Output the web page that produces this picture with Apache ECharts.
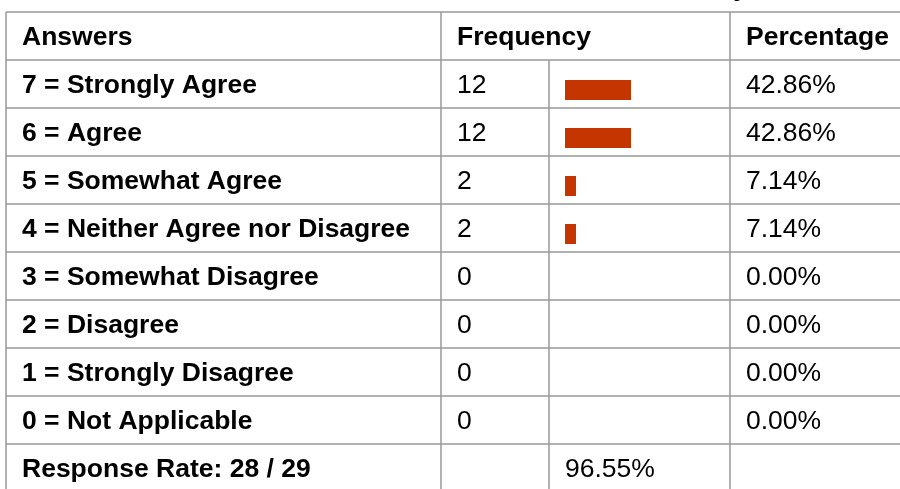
<!DOCTYPE html>
<html>
<head>
<meta charset="utf-8">
<script src="https://cdn.jsdelivr.net/npm/echarts@6/dist/echarts.min.js"></script>
<style>
html,body{margin:0;padding:0;background:#fff;}
#chart{width:900px;height:489px;}
</style>
</head>
<body>
<div id="chart"></div>
<script>
const headers = ['Answers', 'Frequency', 'Percentage'];
const answers = [
  '7 = Strongly Agree',
  '6 = Agree',
  '5 = Somewhat Agree',
  '4 = Neither Agree nor Disagree',
  '3 = Somewhat Disagree',
  '2 = Disagree',
  '1 = Strongly Disagree',
  '0 = Not Applicable'
];
const frequency = [12, 12, 2, 2, 0, 0, 0, 0];
const percentage = ['42.86%', '42.86%', '7.14%', '7.14%', '0.00%', '0.00%', '0.00%', '0.00%'];
const responseLabel = 'Response Rate: 28 / 29';
const responsePct = '96.55%';
const titleText = 'Summary';

const chart = echarts.init(document.getElementById('chart'), null, {renderer: 'canvas'});

const FAMILY = 'Liberation Sans';
const FS = 26.5;
const LINE = '#999999';
const LW = 1.5;
const top0 = 12, rowH = 48;
const colX = [6, 441, 549, 730];
const nRows = answers.length + 2;

const g = [];
for (let i = 0; i <= nRows; i++) {
  const y = top0 + i * rowH;
  g.push({type: 'line', shape: {x1: colX[0], y1: y, x2: 900, y2: y}, style: {stroke: LINE, lineWidth: LW}, silent: true});
}
[colX[0], colX[1], colX[3]].forEach(x => {
  g.push({type: 'line', shape: {x1: x, y1: top0, x2: x, y2: 489}, style: {stroke: LINE, lineWidth: LW}, silent: true});
});
g.push({type: 'line', shape: {x1: colX[2], y1: top0 + rowH, x2: colX[2], y2: 489}, style: {stroke: LINE, lineWidth: LW}, silent: true});

function txt(s, x, y, bold, align) {
  g.push({
    type: 'text', x: x, y: y,
    style: {
      text: s, fill: '#000',
      font: (bold ? 'bold ' : '') + FS + 'px "' + FAMILY + '"',
      align: align || 'left', verticalAlign: 'middle'
    },
    silent: true
  });
}
function cell(s, x, rowIdx, bold) { txt(s, x, top0 + rowIdx * rowH + 26, bold); }

cell(headers[0], colX[0] + 16, 0, true);
cell(headers[1], colX[1] + 16, 0, true);
cell(headers[2], colX[3] + 16, 0, true);
answers.forEach((a, i) => {
  cell(a, colX[0] + 16, i + 1, true);
  cell(String(frequency[i]), colX[1] + 16, i + 1, false);
  cell(percentage[i], colX[3] + 16, i + 1, false);
});
cell(responseLabel, colX[0] + 16, answers.length + 1, true);
cell(responsePct, colX[2] + 16, answers.length + 1, false);

// cut-off title above the table (only the descender shows)
txt(titleText, 748, -11, true, 'right');

chart.setOption({
  animation: false,
  backgroundColor: '#fff',
  grid: {left: 565, top: top0 + rowH + 6, width: 110, height: answers.length * rowH, containLabel: false},
  xAxis: {type: 'value', min: 0, max: 20, show: false},
  yAxis: {type: 'category', data: answers, inverse: true, show: false},
  series: [{
    type: 'bar',
    data: frequency,
    barWidth: 20,
    itemStyle: {color: '#c43500'},
    silent: true
  }],
  graphic: g
});
</script>
</body>
</html>
